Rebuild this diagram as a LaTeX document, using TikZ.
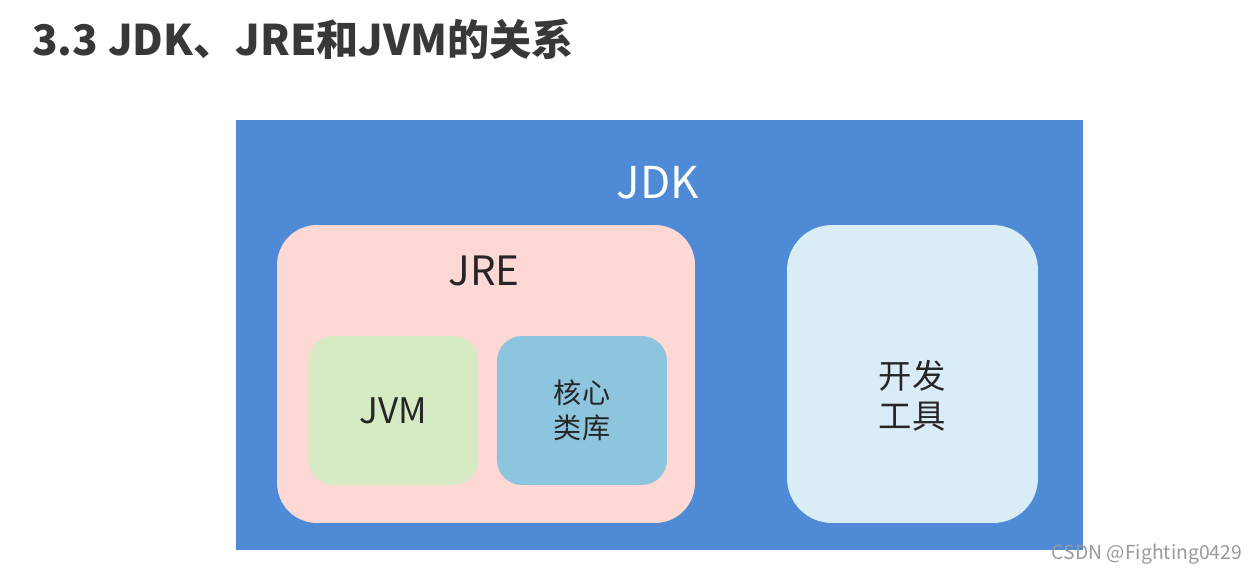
\documentclass[tikz,border=0pt]{standalone}
\usepackage{fontspec}
\usepackage{xcolor}
\newfontfamily\cjk{Noto Sans CJK SC}
\definecolor{Canvas}{HTML}{FFFFFF}
\definecolor{JdkBlue}{HTML}{4E8AD5}
\definecolor{JrePink}{HTML}{FDD8D5}
\definecolor{JvmGreen}{HTML}{D6EBC3}
\definecolor{LibBlue}{HTML}{8DC4DE}
\definecolor{ToolBlue}{HTML}{DAECF5}
\definecolor{Text}{HTML}{262626}
\definecolor{Title}{HTML}{383838}
\definecolor{Mark}{HTML}{9A9A9A}

\begin{document}
\begin{tikzpicture}[x=0.02cm,y=-0.02cm,font=\cjk,text=Text,panel/.style={inner sep=0pt,outer sep=0pt,align=center},jdkbox/.style={panel,fill=JdkBlue,minimum width=16.94cm,minimum height=8.6cm},jrebox/.style={panel,fill=JrePink,rounded corners=0.8cm,minimum width=8.36cm,minimum height=5.96cm},partbox/.style={panel,rounded corners=0.5cm,minimum width=3.4cm,minimum height=2.98cm,font=\cjk\fontsize{16}{20}\selectfont},toolbox/.style={panel,fill=ToolBlue,rounded corners=0.9cm,minimum width=5.02cm,minimum height=5.96cm}]
\fill[Canvas] (0,0) rectangle (1257,575);
\useasboundingbox (0,0) rectangle (1257,575);
\node[anchor=west,font=\cjk\bfseries\fontsize{24}{28}\selectfont,text=Title] (title) at (26,39){3.3 JDK、JRE和JVM的关系};
\node[jdkbox] (jdk) at (659.5,335){};
\node[panel,text=white,font=\cjk\fontsize{25}{30}\selectfont] (jdklabel) at (658,183){JDK};
\node[jrebox] (jre) at (486,374){};
\node[panel,font=\cjk\fontsize{23}{28}\selectfont] (jrelabel) at (484,271){JRE};
\node[partbox,fill=JvmGreen,font=\cjk\fontsize{20}{24}\selectfont] (jvm) at (393.5,410.5){JVM};
\node[partbox,fill=LibBlue] (corelib) at (582,410.5){核心\\类库};
\node[toolbox] (tools) at (912.5,374){};
\node[panel,font=\cjk\fontsize{19}{23}\selectfont] (toolslabel) at (912,396){开发\\工具};
\node[panel,anchor=east,text=Mark,font=\cjk\fontsize{11}{13}\selectfont] (mark) at (1242,554){CSDN @Fighting0429};
\end{tikzpicture}
\end{document}
